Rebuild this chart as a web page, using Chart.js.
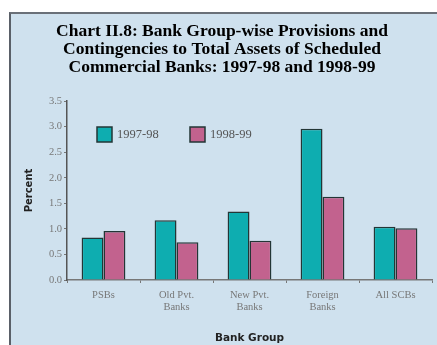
<!DOCTYPE html>
<html>
<head>
<meta charset="utf-8">
<script src="https://cdn.jsdelivr.net/npm/chart.js@4"></script>
<style>
  html, body { margin: 0; padding: 0; background: #ffffff; overflow: hidden; }
  #panel {
    position: absolute; left: 9px; top: 12px; width: 426px; height: 331px;
    background: #cfe1ee; border-left: 2px solid #5a6068; border-top: 2px solid #6a7078;
  }
  #wrap { position: absolute; left: 0; top: 0; width: 437px; height: 345px; }
</style>
</head>
<body>
<div id="panel"></div>
<div id="wrap"><canvas id="grafico" width="437" height="345"></canvas></div>
<script>
const categorias = [["PSBs"], ["Old Pvt.", "Banks"], ["New Pvt.", "Banks"], ["Foreign", "Banks"], ["All SCBs"]];
const serie9798 = [0.83, 1.17, 1.34, 2.96, 1.04];
const serie9899 = [0.96, 0.74, 0.77, 1.63, 1.01];
const etiquetas = ["1997-98", "1998-99"];
const titulo = [
  "Chart II.8: Bank Group-wise Provisions and",
  "Contingencies to Total Assets of Scheduled",
  "Commercial Banks: 1997-98 and 1998-99"
];

const colorTeal = "#0eadb0";
const colorRosa = "#c2628e";
const colorBorde = "#233636";

// leyenda dentro del area del grafico
const leyenda = {
  id: "leyenda",
  afterDraw(chart) {
    const ctx = chart.ctx;
    const posiciones = [[97, 127], [190, 127]];
    chart.data.datasets.forEach((ds, i) => {
      const [x, y] = posiciones[i];
      ctx.save();
      ctx.fillStyle = ds.backgroundColor;
      ctx.fillRect(x, y, 15, 15);
      ctx.strokeStyle = colorBorde;
      ctx.lineWidth = 1.5;
      ctx.strokeRect(x, y, 15, 15);
      ctx.fillStyle = "#555";
      ctx.font = "12.5px 'Liberation Serif'";
      ctx.textBaseline = "middle";
      ctx.fillText(ds.label, x + 20, y + 8);
      ctx.restore();
    });
  }
};

const ctx = document.getElementById("grafico").getContext("2d");

new Chart(ctx, {
  type: "bar",
  data: {
    labels: categorias,
    datasets: [
      { label: etiquetas[0], data: serie9798, backgroundColor: colorTeal, borderColor: colorBorde, borderWidth: 1.5 },
      { label: etiquetas[1], data: serie9899, backgroundColor: colorRosa, borderColor: colorBorde, borderWidth: 1.5 }
    ]
  },
  options: {
    responsive: false,
    animation: false,
    layout: { padding: { left: 12, right: 5, top: 0, bottom: 0 } },
    datasets: { bar: { categoryPercentage: 0.6, barPercentage: 1.0 } },
    plugins: {
      legend: { display: false },
      tooltip: { enabled: false },
      title: {
        display: true,
        text: titulo,
        color: "#000",
        font: { family: "'Liberation Serif'", size: 17.5, weight: "bold", lineHeight: 1.03 },
        padding: { top: 22, bottom: 25 }
      }
    },
    scales: {
      x: {
        afterFit(scale) { scale.height = 65; },
        border: { display: true, color: "#777", width: 1.5 },
        grid: { display: true, drawOnChartArea: false, offset: true, tickLength: 3, color: "#777" },
        ticks: { color: "#777", font: { family: "'Liberation Serif'", size: 10.5, lineHeight: 1.15 }, padding: 6 },
        title: {
          display: true, text: "Bank Group", color: "#222",
          font: { family: "'DejaVu Sans'", size: 10.5, weight: "bold" },
          padding: { top: 8, bottom: 0 }
        }
      },
      y: {
        min: 0, max: 3.5,
        afterFit(scale) { scale.width = 55; },
        border: { display: true, color: "#555", width: 1.5 },
        grid: { display: true, drawOnChartArea: false, tickLength: 3, color: "#777" },
        ticks: {
          stepSize: 0.5, color: "#777", padding: 2,
          font: { family: "'Liberation Serif'", size: 10.5 },
          callback: v => v.toFixed(1)
        },
        title: {
          display: true, text: "Percent", color: "#222",
          font: { family: "'DejaVu Sans'", size: 10, weight: "bold" },
          padding: { top: 11, bottom: 4 }
        }
      }
    }
  },
  plugins: [leyenda]
});
</script>
</body>
</html>
